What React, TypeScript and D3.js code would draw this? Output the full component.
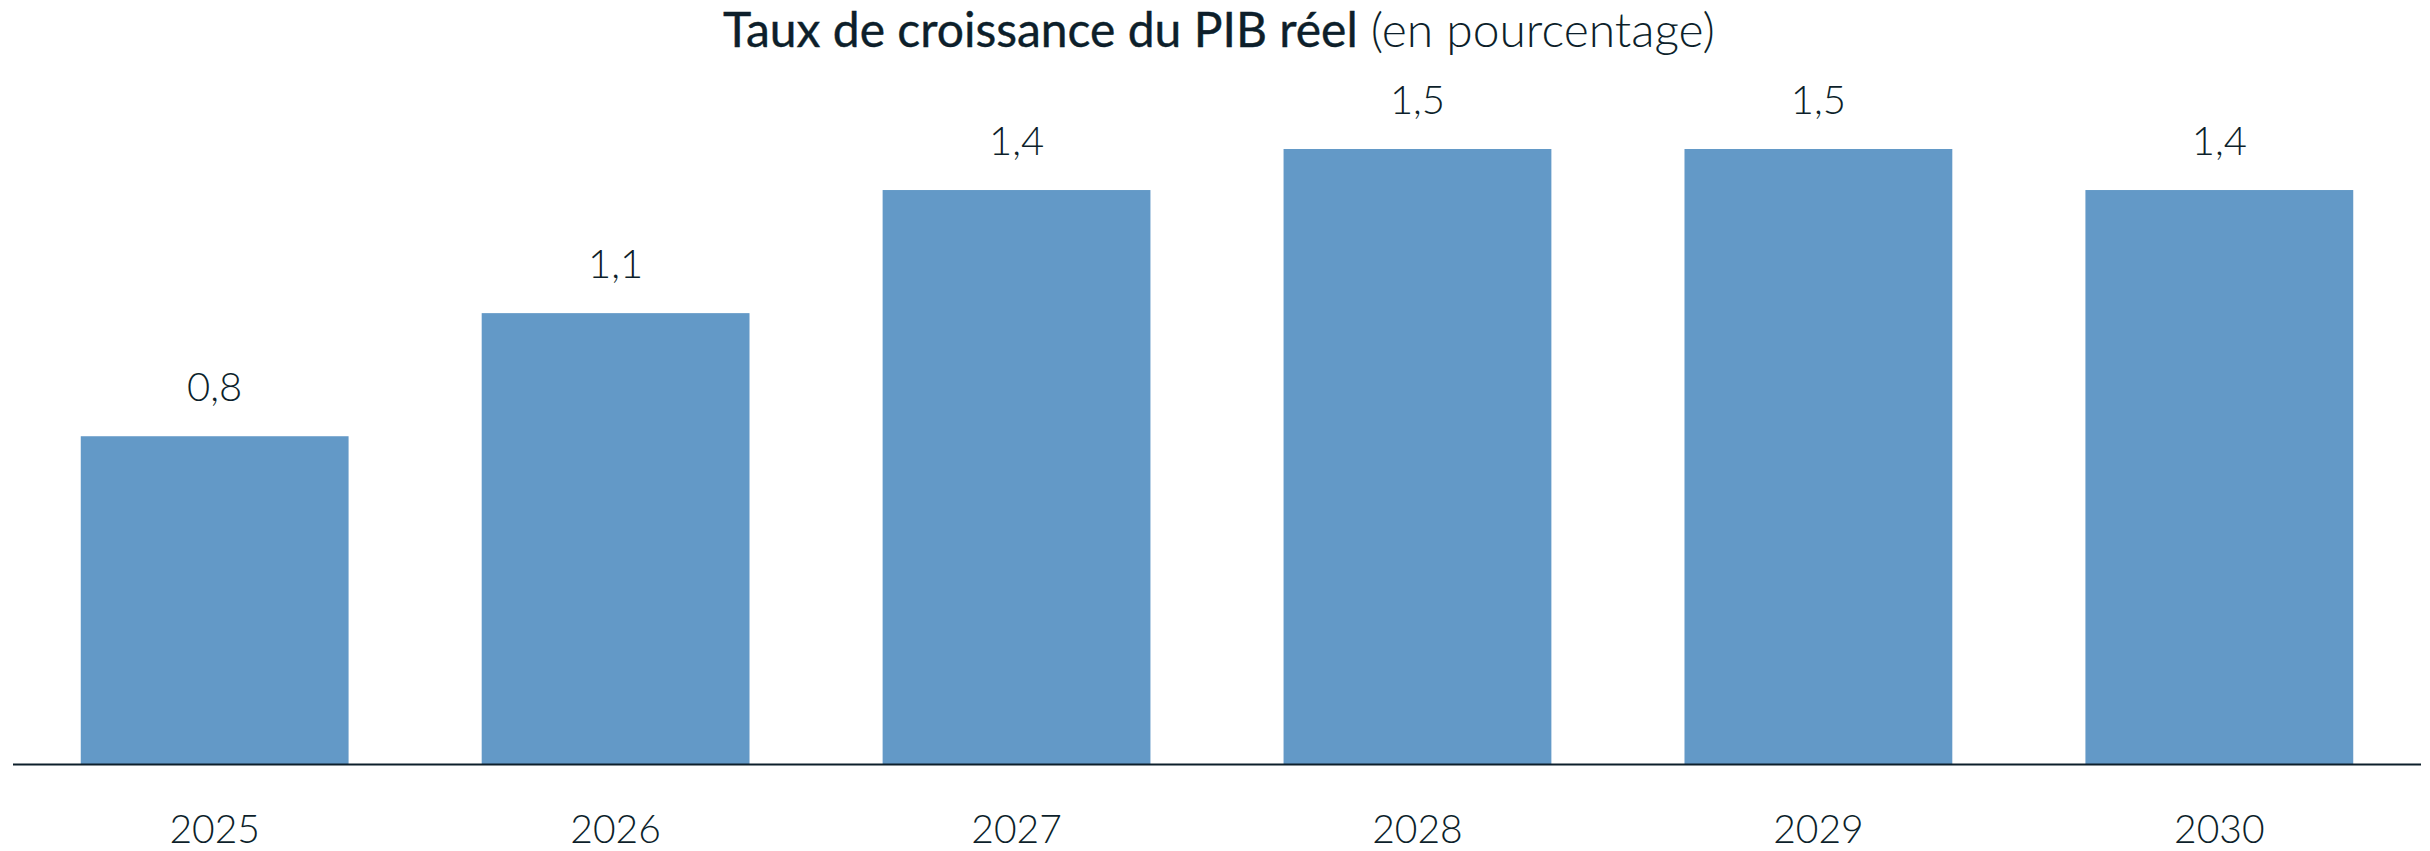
import React from "react";
import * as d3 from "d3";

const categories: string[] = ["2025", "2026", "2027", "2028", "2029", "2030"];
const values: number[] = [0.8, 1.1, 1.4, 1.5, 1.5, 1.4];
const valueLabels: string[] = ["0,8", "1,1", "1,4", "1,5", "1,5", "1,4"];
const titleMain = "Taux de croissance du PIB réel";
const titleSub = "(en pourcentage)";

const W = 2430;
const H = 851;
const TEXT = "#0d1f2b";
const BAR = "#6399c7";
const FONT = "Lato, 'Open Sans', sans-serif";

export default function App() {
  const x = d3
    .scaleBand<string>()
    .domain(categories)
    .range([13, 2421])
    .paddingInner(0.332)
    .paddingOuter(0.169);
  const y = d3.scaleLinear().domain([0, 1.5]).range([764.5, 149]);

  return (
    <svg
      width={W}
      height={H}
      style={{ position: "absolute", left: 0, top: 0, background: "#fff" }}
      fontFamily={FONT}
    >
      <text x={W / 2 + 4} y={47} textAnchor="middle" fill={TEXT} fontSize={48}>
        <tspan fontWeight={400} stroke={TEXT} strokeWidth={0.4}>{titleMain}</tspan>
        <tspan fontWeight={300}> {titleSub}</tspan>
      </text>
      {categories.map((c, i) => (
        <g key={c}>
          <rect
            x={x(c)}
            y={y(values[i])}
            width={x.bandwidth()}
            height={y(0) - y(values[i])}
            fill={BAR}
          />
          <text
            x={(x(c) as number) + x.bandwidth() / 2}
            y={y(values[i]) - 35}
            textAnchor="middle"
            fill={TEXT}
            fontSize={40}
            fontWeight={300}
          >
            {valueLabels[i]}
          </text>
          <text
            x={(x(c) as number) + x.bandwidth() / 2}
            y={843}
            textAnchor="middle"
            fill={TEXT}
            fontSize={39}
            fontWeight={300}
          >
            {c}
          </text>
        </g>
      ))}
      <line x1={13} x2={2421} y1={764.5} y2={764.5} stroke={TEXT} strokeWidth={2} />
    </svg>
  );
}
